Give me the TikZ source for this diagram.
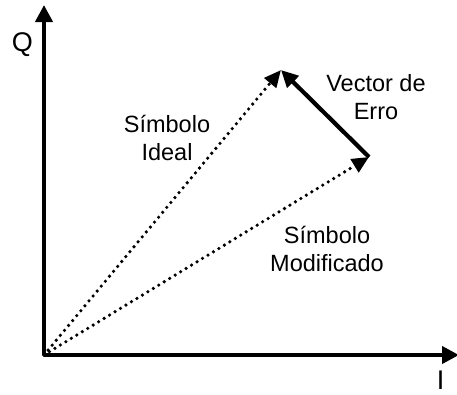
\documentclass[tikz,border=0pt]{standalone}
\usepackage{fontspec}
\setmainfont{Liberation Sans}
\usetikzlibrary{positioning, arrows.meta}

\begin{document}
\begin{tikzpicture}[
      x=1pt, y=-1pt,
      axis_line/.style={-{Triangle[length=17pt, width=17pt]}, line width=4pt},
      symbol_vec/.style={-{Triangle[length=17pt, width=15pt]}, line width=3.6pt, line cap=round, dash pattern=on 0pt off 6.4pt},
      error_vec/.style={-{Triangle[length=17pt, width=16pt]}, line width=4.2pt},
      axis_lbl/.style={font=\fontsize{27}{30}\selectfont, inner sep=0pt},
      vec_lbl/.style={font=\fontsize{23.5}{28}\selectfont, align=center, inner sep=0pt}
    ]
      \useasboundingbox (0,0) rectangle (457,394);
      \coordinate (O) at (44,355);
      \coordinate (Qend) at (44,5);
      \coordinate (Iend) at (459,355);
      \coordinate (Ideal) at (281,70);
      \coordinate (Mod) at (369,157);

      \draw[axis_line] (O) -- (Qend);
      \draw[axis_line] (O) -- (Iend);
      \draw[symbol_vec] (O) -- (Ideal);
      \draw[symbol_vec] (O) -- (Mod);
      \draw[error_vec] (Mod) -- (Ideal);

      \node[axis_lbl] (Q) at (22.5,45) {Q};
      \node[axis_lbl] (I) at (440.5,380) {I};
      \node[vec_lbl] (Lideal) at (167,138) {Símbolo\\Ideal};
      \node[vec_lbl] (Lerro) at (376,97) {Vector de\\Erro};
      \node[vec_lbl] (Lmod) at (327,249) {Símbolo\\Modificado};
    \end{tikzpicture}
\end{document}
